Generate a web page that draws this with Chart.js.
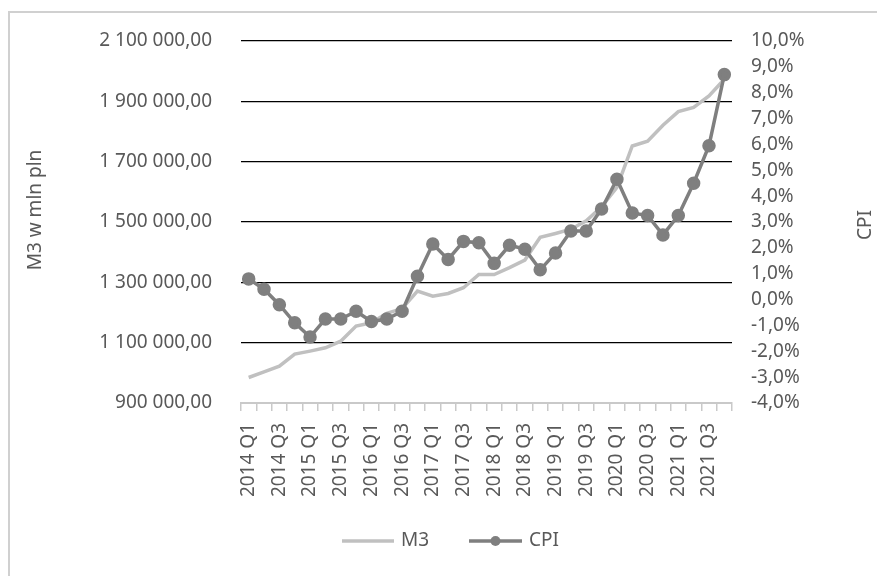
<!DOCTYPE html>
<html><head><meta charset="utf-8">
<script src="https://cdn.jsdelivr.net/npm/chart.js@4/dist/chart.umd.min.js"></script>
<style>html,body{margin:0;padding:0;background:#fff}#wrap{width:877px;height:576px;position:relative}canvas{display:block}</style>
</head><body><div id="wrap"><canvas id="c" width="877" height="576"></canvas></div>
<script>
const categories = ["2014 Q1","2014 Q2","2014 Q3","2014 Q4","2015 Q1","2015 Q2","2015 Q3","2015 Q4",
  "2016 Q1","2016 Q2","2016 Q3","2016 Q4","2017 Q1","2017 Q2","2017 Q3","2017 Q4",
  "2018 Q1","2018 Q2","2018 Q3","2018 Q4","2019 Q1","2019 Q2","2019 Q3","2019 Q4",
  "2020 Q1","2020 Q2","2020 Q3","2020 Q4","2021 Q1","2021 Q2","2021 Q3","2021 Q4"];
const m3Values = [984500,1003000,1022000,1062000,1072000,1083000,1105000,1155000,
  1166000,1197000,1213000,1271000,1254000,1263000,1282000,1326000,
  1326000,1349000,1374000,1449000,1462000,1476000,1504000,1550000,
  1615000,1752000,1768000,1821000,1866000,1880000,1918000,1973000];
const cpiValues = [0.8,0.4,-0.2,-0.9,-1.45,-0.75,-0.75,-0.45,
  -0.85,-0.75,-0.45,0.9,2.15,1.55,2.25,2.2,
  1.4,2.1,1.95,1.15,1.8,2.65,2.65,3.5,
  4.65,3.35,3.25,2.5,3.25,4.5,5.95,8.7];
const leftTickValues = [900000,1100000,1300000,1500000,1700000,1900000,2100000];
const rightTickValues = [-4,-3,-2,-1,0,1,2,3,4,5,6,7,8,9,10];
const seriesNames = ["M3","CPI"];
const axisTitles = ["M3 w mln pln","CPI"];

const FONT = "'Noto Sans', 'Open Sans', 'DejaVu Sans', sans-serif";
const TXT = '#595959';
const M3C = '#c0c0c0';
const CPIC = '#7f7f7f';

function fmtLeft(v){
  const p = Number(v).toFixed(2).split('.');
  return p[0].replace(/\B(?=(\d{3})+(?!\d))/g,' ') + ',' + p[1];
}
function fmtRight(v){ return Number(v).toFixed(1).replace('.',',') + '%'; }

const decor = {
  id:'decor',
  beforeDraw(chart){
    const ctx = chart.ctx; ctx.save();
    ctx.fillStyle='#fff'; ctx.fillRect(0,0,chart.width,chart.height);
    ctx.strokeStyle='#d0d0d0'; ctx.lineWidth=2;
    ctx.strokeRect(9,12,900,600);
    ctx.restore();
  },
  afterDraw(chart){
    const ctx = chart.ctx; ctx.save();
    ctx.fillStyle = TXT; ctx.font = "19px " + FONT;
    ctx.textAlign='center'; ctx.textBaseline='middle';
    ctx.save(); ctx.translate(36,210); ctx.rotate(-Math.PI/2); ctx.fillText(axisTitles[0],0,0); ctx.restore();
    ctx.save(); ctx.translate(866,225); ctx.rotate(-Math.PI/2); ctx.fillText(axisTitles[1],0,0); ctx.restore();
    // legend
    const ly = 541;
    ctx.lineCap='butt';
    ctx.strokeStyle=M3C; ctx.lineWidth=3.5;
    ctx.beginPath(); ctx.moveTo(342,ly); ctx.lineTo(394,ly); ctx.stroke();
    ctx.strokeStyle=CPIC;
    ctx.beginPath(); ctx.moveTo(469,ly); ctx.lineTo(522,ly); ctx.stroke();
    ctx.fillStyle=CPIC; ctx.beginPath(); ctx.arc(495.5,ly,5,0,Math.PI*2); ctx.fill();
    ctx.fillStyle=TXT; ctx.textAlign='left';
    ctx.fillText(seriesNames[0],401,ly);
    ctx.fillText(seriesNames[1],529,ly);
    ctx.restore();
  }
};

new Chart(document.getElementById('c'), {
  type:'line',
  data:{
    labels: categories,
    datasets:[
      {label:seriesNames[0], data:m3Values, yAxisID:'y', borderColor:M3C, backgroundColor:M3C,
       borderWidth:3.5, pointRadius:0, tension:0, order:1},
      {label:seriesNames[1], data:cpiValues, yAxisID:'y1', borderColor:CPIC, backgroundColor:CPIC,
       pointBackgroundColor:CPIC, pointBorderColor:CPIC, borderWidth:3.5, pointRadius:5, tension:0, order:0}
    ]
  },
  options:{
    responsive:false, animation:false, devicePixelRatio:1,
    layout:{padding:{top:41,left:0,right:0,bottom:0}},
    plugins:{legend:{display:false}, tooltip:{enabled:false}},
    scales:{
      x:{
        type:'category', offset:true,
        grid:{display:true, drawOnChartArea:false, drawTicks:true, tickLength:8, color:'#c9c9c9', offset:true, lineWidth:1.5},
        border:{display:true, color:'#c9c9c9', width:2},
        ticks:{autoSkip:false, maxRotation:90, minRotation:90, padding:12, color:TXT,
          font:{family:FONT, size:19},
          callback:(v,i)=> i%2===0 ? categories[i] : ''},
        afterFit(s){ s.height = 173; }
      },
      y:{
        position:'left', min:leftTickValues[0], max:leftTickValues[leftTickValues.length-1],
        afterBuildTicks(s){ s.ticks = leftTickValues.map(v=>({value:v})); },
        ticks:{padding:29, color:TXT, font:{family:FONT, size:19}, callback:v=>fmtLeft(v)},
        grid:{drawTicks:false, lineWidth:1.3, color:c=> (c.tick && c.tick.value===leftTickValues[0]) ? 'rgba(0,0,0,0)' : '#000'},
        border:{display:false},
        afterFit(s){ s.width = 241; }
      },
      y1:{
        position:'right', min:rightTickValues[0], max:rightTickValues[rightTickValues.length-1],
        afterBuildTicks(s){ s.ticks = rightTickValues.map(v=>({value:v})); },
        ticks:{padding:19, autoSkip:false, color:TXT, font:{family:FONT, size:19}, callback:v=>fmtRight(v)},
        grid:{display:false, drawOnChartArea:false, drawTicks:false},
        border:{display:false},
        afterFit(s){ s.width = 145; }
      }
    }
  },
  plugins:[decor]
});
</script>
</body></html>
